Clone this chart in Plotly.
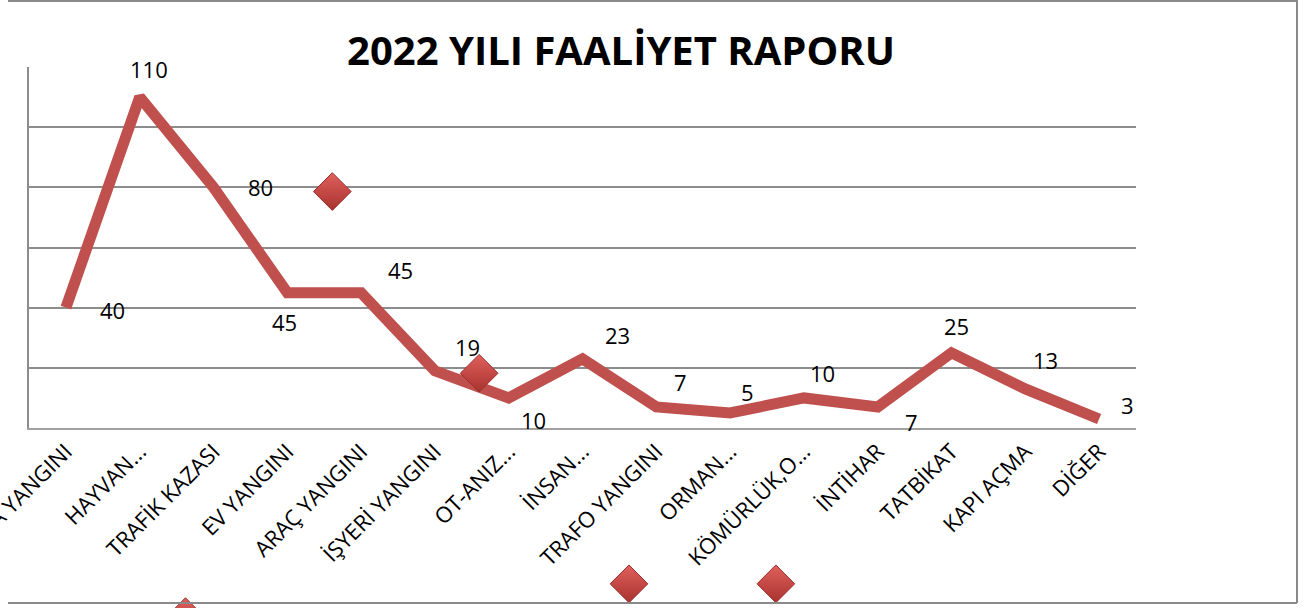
import plotly.graph_objects as go

# ---- data ----
categories = ["BACA YANGINI", "HAYVAN...", "TRAFİK KAZASI", "EV YANGINI", "ARAÇ YANGINI",
              "İŞYERİ YANGINI", "OT-ANIZ...", "İNSAN...", "TRAFO YANGINI", "ORMAN...",
              "KÖMÜRLÜK,O...", "İNTİHAR", "TATBİKAT", "KAPI AÇMA", "DİĞER"]
values = [40, 110, 80, 45, 45, 19, 10, 23, 7, 5, 10, 7, 25, 13, 3]
value_labels = ["40", "110", "80", "45", "45", "19", "10", "23", "7", "5", "10", "7", "25", "13", "3"]

# stray diamond markers (category position, value)
marker_x = [3.61, 5.60, 7.63, 9.62, 1.62]
marker_y = [78.6, 18.2, -51.8, -51.8, -62.7]

title_text = "2022 YILI FAALİYET RAPORU"

# ---- label offsets (pixels) ----
label_dx = [47, 9, 47, -3, 39, 33, 25, 35, 24, 17, 19, 34, 5, 20, 28]
label_dy = [-2, 28, 0, -29, 23, 24, -22, 24, 25, 21, 25, -15, 27, 29, 14]

RED = "#C0504D"
GRID = "#8C8C8C"
FONT = "Open Sans"

W, H = 1308, 608
PL, PR, PT, PB = 29, 1136, 67, 428   # plot area in pixels
n = len(categories)
x_idx = list(range(n))
xr = [-0.5, n - 0.5]
yr = [0, 120]
sx = (PR - PL) / (xr[1] - xr[0])
sy = (PB - PT) / (yr[1] - yr[0])
x2r = [xr[0] - PL / sx, xr[1] + (W - PR) / sx]
y2r = [yr[0] - (H - PB) / sy, yr[1] + PT / sy]

fig = go.Figure()
fig.add_trace(go.Scatter(
    x=x_idx, y=values, mode="lines",
    line=dict(color=RED, width=11),
    hoverinfo="skip", showlegend=False,
))
fig.add_trace(go.Scatter(
    x=marker_x, y=marker_y, mode="markers", xaxis="x2", yaxis="y2",
    marker=dict(symbol="diamond", size=29, color="#E0605C",
                gradient=dict(type="vertical", color="#A8322F"),
                line=dict(color="#9A2E2B", width=1)),
    hoverinfo="skip", showlegend=False,
))

annotations = []
for i, (v, t) in enumerate(zip(values, value_labels)):
    annotations.append(dict(
        x=i, y=v, xref="x", yref="y", text=t, showarrow=False,
        xshift=label_dx[i], yshift=label_dy[i],
        font=dict(family=FONT, size=22, color="black"),
    ))

def fx(px):
    return px / W

def fy(py):
    return 1 - py / H

frame = dict(color="#8A8A8A", width=2)
shapes = [
    dict(type="line", xref="paper", yref="paper", x0=fx(8), x1=fx(1297), y0=fy(1), y1=fy(1), line=frame),
    dict(type="line", xref="paper", yref="paper", x0=fx(1297), x1=fx(1297), y0=fy(0), y1=fy(603), line=frame),
    dict(type="line", xref="paper", yref="paper", x0=fx(8), x1=fx(1297), y0=fy(603), y1=fy(603), line=frame),
]

fig.update_layout(
    width=W, height=H,
    margin=dict(l=0, r=0, t=0, b=0),
    paper_bgcolor="white", plot_bgcolor="rgba(0,0,0,0)",
    title=dict(text="<b>" + title_text + "</b>", xref="paper", x=fx(621), xanchor="center",
               yref="container", y=1 - 51 / H, yanchor="middle",
               font=dict(family=FONT, size=40, color="black")),
    annotations=annotations,
    shapes=shapes,
    showlegend=False,
    xaxis=dict(
        domain=[fx(PL), fx(PR)], range=xr,
        tickmode="array", tickvals=x_idx, ticktext=categories,
        tickangle=-45, ticks="", showgrid=False, zeroline=False,
        showline=True, linecolor="#A0A0A0", linewidth=2,
        automargin=False, ticklabeloverflow="allow",
        tickfont=dict(family=FONT, size=22, color="black"),
    ),
    yaxis=dict(
        domain=[fy(PB), fy(PT)], range=yr, dtick=20, showticklabels=False, ticks="",
        showgrid=True, gridcolor=GRID, gridwidth=2, zeroline=False,
        showline=True, linecolor=GRID, linewidth=2,
        automargin=False,
    ),
    xaxis2=dict(domain=[0, 1], range=x2r, anchor="y2", visible=False),
    yaxis2=dict(domain=[0, 1], range=y2r, anchor="x2", visible=False),
)

fig.write_html("out.html", config={"displayModeBar": False},
               post_script="document.body.style.margin='0';document.body.style.overflow='hidden';")
